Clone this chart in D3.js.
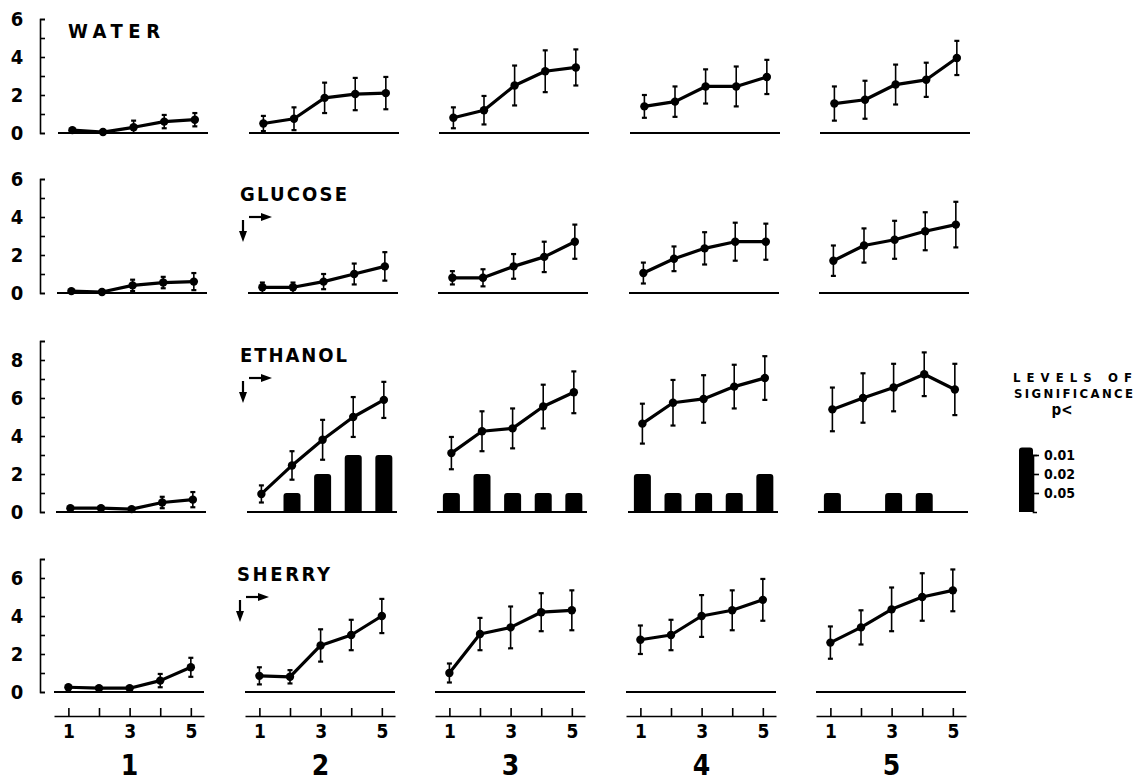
<!DOCTYPE html>
<html>
<head>
<meta charset="utf-8">
<script src="https://cdn.jsdelivr.net/npm/d3@7"></script>
<style>
  body { margin: 0; background: #fff; }
  svg { display: block; background: #fff; }
  text { font-family: "Liberation Sans Narrow", "DejaVu Sans Condensed", "Liberation Sans", Arial, sans-serif; font-weight: bold; fill: #000; }
</style>
</head>
<body>
<svg id="chart" width="1136" height="782"></svg>
<script>
// sessions within each block, and the blocks (columns)
var sessions = [1, 2, 3, 4, 5];
var blocks = ['1', '2', '3', '4', '5'];
var rowNames = ['WATER', 'GLUCOSE', 'ETHANOL', 'SHERRY'];
var yLabels = [[0, 2, 4, 6], [0, 2, 4, 6], [0, 2, 4, 6, 8], [0, 2, 4, 6]];
var yMax = [6, 6, 9, 7];

// means and error bars, one array of 5 per block
var waterMean = [[0.15, 0.05, 0.3, 0.6, 0.7], [0.5, 0.75, 1.85, 2.05, 2.1], [0.8, 1.2, 2.5, 3.25, 3.45], [1.4, 1.65, 2.45, 2.45, 2.95], [1.55, 1.75, 2.55, 2.8, 3.95]];
var waterErr = [[0.1, 0.1, 0.35, 0.35, 0.35], [0.4, 0.6, 0.8, 0.85, 0.85], [0.55, 0.75, 1.05, 1.1, 0.95], [0.6, 0.8, 0.9, 1.05, 0.9], [0.9, 1.0, 1.05, 0.9, 0.9]];

var glucoseMean = [[0.1, 0.05, 0.4, 0.55, 0.6], [0.3, 0.3, 0.6, 1.0, 1.4], [0.8, 0.8, 1.4, 1.9, 2.7], [1.05, 1.8, 2.35, 2.7, 2.7], [1.7, 2.5, 2.8, 3.25, 3.6]];
var glucoseErr = [[0.1, 0.1, 0.3, 0.3, 0.45], [0.25, 0.25, 0.4, 0.55, 0.75], [0.35, 0.45, 0.65, 0.8, 0.9], [0.55, 0.65, 0.85, 1.0, 0.95], [0.8, 0.9, 1.0, 1.0, 1.2]];

var ethanolMean = [[0.2, 0.2, 0.15, 0.5, 0.65], [0.95, 2.45, 3.8, 5.0, 5.9], [3.1, 4.25, 4.4, 5.55, 6.3], [4.65, 5.75, 5.95, 6.6, 7.05], [5.4, 6.0, 6.55, 7.25, 6.45]];
var ethanolErr = [[0.1, 0.1, 0.1, 0.3, 0.4], [0.45, 0.75, 1.05, 1.05, 0.95], [0.85, 1.05, 1.05, 1.15, 1.1], [1.05, 1.2, 1.25, 1.15, 1.15], [1.15, 1.3, 1.25, 1.15, 1.35]];
// significance level per point: 0 none, 1 p<0.05, 2 p<0.02, 3 p<0.01
var ethanolSig = [[0, 0, 0, 0, 0], [0, 1, 2, 3, 3], [1, 2, 1, 1, 1], [2, 1, 1, 1, 2], [1, 0, 1, 1, 0]];

var sherryMean = [[0.25, 0.2, 0.2, 0.6, 1.3], [0.85, 0.8, 2.45, 3.0, 4.0], [1.0, 3.05, 3.4, 4.2, 4.3], [2.75, 3.0, 4.0, 4.3, 4.85], [2.6, 3.4, 4.35, 5.0, 5.35]];
var sherryErr = [[0.1, 0.1, 0.1, 0.35, 0.5], [0.45, 0.35, 0.85, 0.8, 0.9], [0.5, 0.85, 1.1, 1.0, 1.05], [0.75, 0.8, 1.1, 1.05, 1.1], [0.85, 0.9, 1.15, 1.25, 1.1]];

var sigLabels = ['0.05', '0.02', '0.01'];

var allMeans = [waterMean, glucoseMean, ethanolMean, sherryMean];
var allErrs = [waterErr, glucoseErr, ethanolErr, sherryErr];

// layout
var unit = 19;
var rowZero = [133, 293, 512, 692];
var rowShift = [4, 3, 2, 0];
var panelLeft = [54, 245, 435, 626, 816];
var panelWidth = 150;
var titleX = [68, 240, 240, 237];
var titleY = [38, 201, 362, 581];
var titleLen = [92, 107, 107, 93];

var svg = d3.select('#chart');

function panelX(p, shift) {
    return d3.scaleLinear().domain([0.53, 5.43]).range([panelLeft[p] + shift, panelLeft[p] + shift + panelWidth]);
}

function topRounded(x0, y0, w, h, r) {
    var p = d3.path();
    p.moveTo(x0, y0 + h);
    p.lineTo(x0, y0 + r);
    p.quadraticCurveTo(x0, y0, x0 + r, y0);
    p.lineTo(x0 + w - r, y0);
    p.quadraticCurveTo(x0 + w, y0, x0 + w, y0 + r);
    p.lineTo(x0 + w, y0 + h);
    p.closePath();
    return p.toString();
}

rowNames.forEach(function (name, r) {
    var y = d3.scaleLinear().domain([0, yMax[r]]).range([rowZero[r], rowZero[r] - yMax[r] * unit]);

    // left bracket axis
    var ax = svg.append('g')
        .attr('transform', 'translate(40,0)')
        .call(d3.axisRight(y).tickValues(d3.range(0, yMax[r] + 1)).tickSize(5).tickFormat(''));
    ax.selectAll('path, line').attr('stroke', '#000').attr('stroke-width', 1.6);

    svg.append('g').selectAll('text')
        .data(yLabels[r])
        .enter().append('text')
        .attr('x', 17)
        .attr('y', function (d) { return y(d) + 7; })
        .attr('text-anchor', 'middle')
        .style('font-size', '20px')
        .text(function (d) { return d; });

    // row title
    svg.append('text')
        .attr('x', titleX[r])
        .attr('y', titleY[r])
        .attr('textLength', titleLen[r])
        .attr('lengthAdjust', 'spacing')
        .style('font-size', '20px')
        .text(name);

    // drug-onset arrows
    if (r > 0) {
        var ay = titleY[r] + 16;
        var ax0 = titleX[r] + 3;
        svg.append('line').attr('x1', ax0).attr('x2', ax0).attr('y1', ay + 3).attr('y2', ay + 16)
            .attr('stroke', '#000').attr('stroke-width', 2.2);
        svg.append('path').attr('d', 'M' + (ax0 - 4) + ',' + (ay + 14) + 'L' + (ax0 + 4) + ',' + (ay + 14) + 'L' + ax0 + ',' + (ay + 25) + 'Z');
        svg.append('line').attr('x1', ax0 + 6).attr('x2', ax0 + 20).attr('y1', ay).attr('y2', ay)
            .attr('stroke', '#000').attr('stroke-width', 2.2);
        svg.append('path').attr('d', 'M' + (ax0 + 18) + ',' + (ay - 4) + 'L' + (ax0 + 29) + ',' + ay + 'L' + (ax0 + 18) + ',' + (ay + 4) + 'Z');
    }

    blocks.forEach(function (b, p) {
        var x = panelX(p, rowShift[r]);
        var means = allMeans[r][p];
        var errs = allErrs[r][p];
        var pts = sessions.map(function (s, i) { return { s: s, m: means[i], e: errs[i] }; });
        var g = svg.append('g');

        g.append('line')
            .attr('x1', x.range()[0]).attr('x2', x.range()[1])
            .attr('y1', y(0)).attr('y2', y(0))
            .attr('stroke', '#000').attr('stroke-width', 2);

        if (r === 2) {
            g.selectAll('path.bar')
                .data(sessions.filter(function (s, i) { return ethanolSig[p][i] > 0; }))
                .enter().append('path')
                .attr('class', 'bar')
                .attr('d', function (s) {
                    var lv = ethanolSig[p][s - 1];
                    return topRounded(x(s) - 8.5, y(lv), 17, y(0) - y(lv), 3);
                })
                .attr('fill', '#000');
        }

        g.selectAll('line.err')
            .data(pts)
            .enter().append('line')
            .attr('class', 'err')
            .attr('x1', function (d) { return x(d.s); })
            .attr('x2', function (d) { return x(d.s); })
            .attr('y1', function (d) { return y(Math.max(0, d.m - d.e)); })
            .attr('y2', function (d) { return y(d.m + d.e); })
            .attr('stroke', '#000').attr('stroke-width', 1.6);

        var caps = [];
        pts.forEach(function (d) {
            caps.push({ s: d.s, v: d.m + d.e });
            if (d.m - d.e > 0.05) caps.push({ s: d.s, v: d.m - d.e });
        });
        g.selectAll('line.cap')
            .data(caps)
            .enter().append('line')
            .attr('class', 'cap')
            .attr('x1', function (d) { return x(d.s) - 2.5; })
            .attr('x2', function (d) { return x(d.s) + 2.5; })
            .attr('y1', function (d) { return y(d.v); })
            .attr('y2', function (d) { return y(d.v); })
            .attr('stroke', '#000').attr('stroke-width', 2.2);

        g.append('path')
            .datum(pts)
            .attr('fill', 'none')
            .attr('stroke', '#000')
            .attr('stroke-width', 3.2)
            .attr('stroke-linejoin', 'round')
            .attr('d', d3.line().x(function (d) { return x(d.s); }).y(function (d) { return y(d.m); }));

        g.selectAll('circle')
            .data(pts)
            .enter().append('circle')
            .attr('cx', function (d) { return x(d.s); })
            .attr('cy', function (d) { return y(d.m); })
            .attr('r', 4.2)
            .attr('fill', '#000');
    });
});

// session axes and block labels at the bottom
blocks.forEach(function (b, p) {
    var x = panelX(p, 0);
    var bx = svg.append('g')
        .attr('transform', 'translate(0,716)')
        .call(d3.axisBottom(x).tickValues(sessions).tickSizeInner(-8).tickSizeOuter(0)
            .tickFormat(function (d) { return d % 2 ? d : ''; }));
    bx.selectAll('path, line').attr('stroke', '#000').attr('stroke-width', 1.6);
    bx.selectAll('text').attr('y', 9).style('font-size', '19px');

    svg.append('text')
        .attr('x', x(3))
        .attr('y', 775)
        .attr('text-anchor', 'middle')
        .style('font-size', '28px')
        .text(b);
});

// significance legend
var ys = d3.scaleLinear().domain([0, 3]).range([512, 455]);
svg.append('text').attr('x', 1013).attr('y', 382).attr('textLength', 119).attr('lengthAdjust', 'spacing')
    .style('font-size', '13px').text('LEVELS OF');
svg.append('text').attr('x', 1014).attr('y', 398).attr('textLength', 119).attr('lengthAdjust', 'spacing')
    .style('font-size', '13px').text('SIGNIFICANCE');
svg.append('text').attr('x', 1062).attr('y', 415).attr('text-anchor', 'middle')
    .style('font-size', '15px').text('p<');
svg.append('path').attr('d', topRounded(1019, ys(3.4), 14, ys(0) - ys(3.4), 3)).attr('fill', '#000');
var lg = svg.append('g')
    .attr('transform', 'translate(1033,0)')
    .call(d3.axisRight(ys).tickValues([1, 2, 3]).tickSize(6).tickSizeOuter(4).tickPadding(5)
        .tickFormat(function (d) { return sigLabels[d - 1]; }));
lg.selectAll('path, line').attr('stroke', '#000').attr('stroke-width', 1.6);
lg.selectAll('text').style('font-size', '14px');
</script>
</body>
</html>
